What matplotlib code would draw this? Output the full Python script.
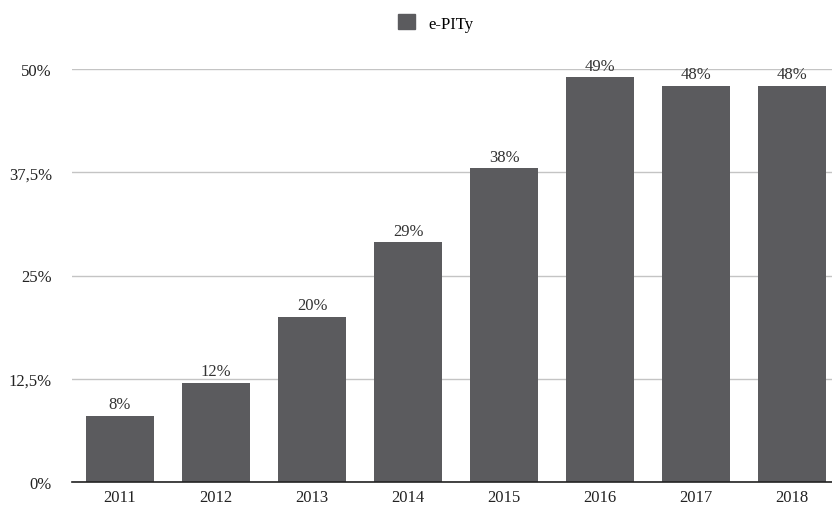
import matplotlib
matplotlib.use("Agg")
import matplotlib.pyplot as plt
from matplotlib.patches import Patch

years = ["2011", "2012", "2013", "2014", "2015", "2016", "2017", "2018"]
values = [8, 12, 20, 29, 38, 49, 48, 48]
value_labels = ["8%", "12%", "20%", "29%", "38%", "49%", "48%", "48%"]
yticks = [0, 12.5, 25, 37.5, 50]
ytick_labels = ["0%", "12,5%", "25%", "37,5%", "50%"]
series_name = "e-PITy"

plt.rcParams['font.family'] = ['Liberation Serif', 'DejaVu Serif']
W, H = 832, 506
fig = plt.figure(figsize=(W/100, H/100), dpi=100)
ax = fig.add_axes([72/W, (H-483)/H, 1 - 72/W, (483-70)/H])

color = "#5b5b5e"
x = list(range(len(years)))
bars = ax.bar(x, values, width=0.71, color=color, zorder=3)
ax.set_xlim(-0.5, 7.5 - 8/96)
ax.set_ylim(0, 50)

for xi, v, lab in zip(x, values, value_labels):
    ax.annotate(lab, (xi, v), xytext=(0, 2.5), textcoords="offset points",
                ha="center", va="bottom", fontsize=12, color="#333333",
                annotation_clip=False, zorder=4)

ax.set_yticks(yticks)
ax.set_yticklabels(ytick_labels)
ax.set_xticks(x)
ax.set_xticklabels(years)
ax.tick_params(axis="both", length=0, labelsize=12, colors="#222222")
ax.tick_params(axis="y", pad=14.5)
ax.tick_params(axis="x", pad=5)
ax.grid(axis="y", color="#c4c4c4", linewidth=1, zorder=0)
for s in ["top", "right", "left"]:
    ax.spines[s].set_visible(False)
ax.spines["bottom"].set_color("#222222")
ax.spines["bottom"].set_linewidth(1.2)
ax.spines["bottom"].set_zorder(5)

fig.legend(handles=[Patch(color=color, label=series_name)],
           loc="center", bbox_to_anchor=(436/W, 1 - 24/H), frameon=False,
           fontsize=12, handlelength=1.0, handleheight=1.0, handletextpad=0.8)

fig.savefig("out.png", dpi=100)
